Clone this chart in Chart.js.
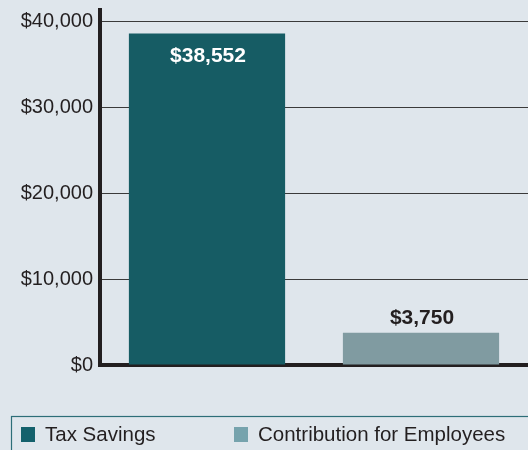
<!DOCTYPE html>
<html>
<head>
<meta charset="utf-8">
<script src="https://cdn.jsdelivr.net/npm/chart.js@4/dist/chart.umd.min.js"></script>
<style>
  html, body { margin: 0; padding: 0; background: #dfe6ec; }
  #c { display: block; }
</style>
</head>
<body>
<canvas id="c" width="528" height="450"></canvas>
<script>
const categories = ['Tax Savings', 'Contribution for Employees'];
const values = [38552, 3750];
const valueLabels = ['$38,552', '$3,750'];
const yTickValues = [0, 10000, 20000, 30000, 40000];

const barColors = ['#165c64', '#809ba1'];
const legendColors = ['#14616c', '#76a3ad'];
const FONT = '"Liberation Sans", Arial, sans-serif';

const valueLabelPlugin = {
  id: 'valueLabels',
  afterDatasetsDraw(chart) {
    const ctx = chart.ctx;
    const meta = chart.getDatasetMeta(0);
    ctx.save();
    ctx.font = 'bold 21px ' + FONT;
    ctx.textAlign = 'center';
    ctx.textBaseline = 'middle';
    meta.data.forEach((el, i) => {
      if (i === 0) {
        ctx.fillStyle = '#ffffff';
        ctx.fillText(valueLabels[i], el.x + 1, el.y + 23);
      } else {
        ctx.fillStyle = '#231f20';
        ctx.fillText(valueLabels[i], el.x + 1, el.y - 15);
      }
    });
    ctx.restore();
  }
};

const legendBoxPlugin = {
  id: 'legendBox',
  afterDraw(chart) {
    const ctx = chart.ctx;
    ctx.save();
    ctx.strokeStyle = '#2d6e78';
    ctx.lineWidth = 1.2;
    ctx.strokeRect(11.5, 416.5, 540, 60);
    const xs = [21, 234];
    ctx.font = '20.5px ' + FONT;
    ctx.textBaseline = 'alphabetic';
    ctx.textAlign = 'left';
    categories.forEach((name, i) => {
      ctx.fillStyle = legendColors[i];
      ctx.fillRect(xs[i], 427, 14, 15);
      ctx.fillStyle = '#231f20';
      ctx.fillText(name, xs[i] + 24, 441);
    });
    ctx.restore();
  }
};

new Chart(document.getElementById('c'), {
  type: 'bar',
  data: {
    labels: categories,
    datasets: [{
      data: values,
      backgroundColor: barColors,
      borderWidth: 0,
      barPercentage: 0.73,
      categoryPercentage: 1
    }]
  },
  options: {
    responsive: false,
    devicePixelRatio: 1,
    animation: false,
    layout: { padding: { left: 0, right: 0, top: 10, bottom: 85 } },
    plugins: {
      legend: { display: false },
      tooltip: { enabled: false }
    },
    scales: {
      x: {
        ticks: { display: false },
        grid: { display: false, drawTicks: false },
        border: { display: true, width: 4, color: '#231f20' }
      },
      y: {
        min: 0,
        max: 41280,
        afterBuildTicks(scale) {
          scale.ticks = yTickValues.map(v => ({ value: v }));
        },
        afterFit(scale) {
          scale.width = 100;
          scale.paddingTop = 0;
          scale.paddingBottom = 0;
        },
        ticks: {
          padding: 7,
          color: '#231f20',
          font: { family: FONT, size: 20 },
          callback: v => '$' + Number(v).toLocaleString('en-US')
        },
        grid: { drawTicks: false, color: '#3a3a3a', lineWidth: 1 },
        border: { display: true, width: 4, color: '#231f20' }
      }
    }
  },
  plugins: [valueLabelPlugin, legendBoxPlugin]
});
</script>
</body>
</html>
